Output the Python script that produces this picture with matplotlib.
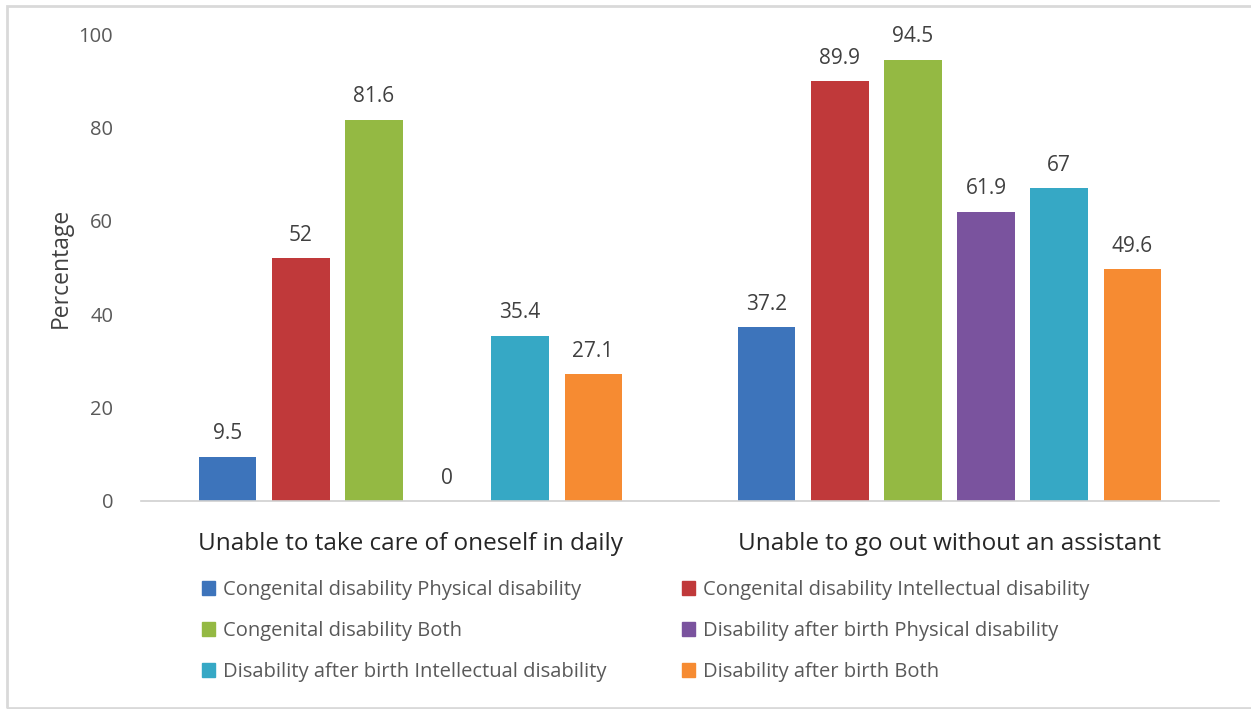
import matplotlib
matplotlib.use("Agg")
import matplotlib.pyplot as plt
from matplotlib.patches import Rectangle, Patch
import numpy as np

categories = ["Unable to take care of oneself in daily",
              "Unable to go out without an assistant"]
series_names = ["Congenital disability Physical disability",
                "Congenital disability Intellectual disability",
                "Congenital disability Both",
                "Disability after birth Physical disability",
                "Disability after birth Intellectual disability",
                "Disability after birth Both"]
values = [[9.5, 37.2],
          [52, 89.9],
          [81.6, 94.5],
          [0, 61.9],
          [35.4, 67],
          [27.1, 49.6]]
value_labels = [["9.5", "37.2"], ["52", "89.9"], ["81.6", "94.5"],
                ["0", "61.9"], ["35.4", "67"], ["27.1", "49.6"]]
colors = ["#3d74bb", "#c0393a", "#94b943", "#7a539e", "#36a8c5", "#f68b32"]
yticks = [0, 20, 40, 60, 80, 100]

plt.rcParams['font.family'] = ['Open Sans', 'DejaVu Sans']

W, H = 1251, 709
fig = plt.figure(figsize=(W / 100, H / 100), dpi=100)
ax = fig.add_axes([141 / W, 1 - 501 / H, (1219 - 141) / W, (501 - 34) / H])

x = np.arange(len(categories))
pitch = 0.1355
width = 0.106
n = len(series_names)
handles = []
for i, (name, vals, col) in enumerate(zip(series_names, values, colors)):
    off = (i - (n - 1) / 2) * pitch
    ax.bar(x + off, vals, width=width, color=col, label=name)
    handles.append(Patch(color=col, label=name))
    for xi, v, lab in zip(x + off, vals, value_labels[i]):
        ax.annotate(lab, (xi, v), xytext=(0, 9), textcoords="offset points",
                    ha="center", va="bottom", fontsize=15, color="#404040")

ax.set_xlim(-0.5, 1.5)
ax.set_ylim(0, 100)
ax.set_yticks(yticks)
ax.set_yticklabels([str(t) for t in yticks], fontsize=14.5, color="#595959")
ax.tick_params(axis='y', length=0, pad=20)
ax.set_xticks(x)
ax.set_xticklabels(categories, fontsize=17.5, color="#262626")
ax.tick_params(axis='x', length=0, pad=22)
for s in ["top", "right", "left"]:
    ax.spines[s].set_visible(False)
ax.spines["bottom"].set_color("#d0d0d0")
ax.spines["bottom"].set_linewidth(1.2)
ax.set_ylabel("Percentage", fontsize=16.5, color="#404040", labelpad=4)

leg_kw = dict(ncol=1, loc="center left", frameon=False, fontsize=14.5,
              labelcolor="#595959", handlelength=0.65, handleheight=0.65,
              handletextpad=0.4, labelspacing=1.05, borderpad=0, borderaxespad=0)
left_idx = [0, 2, 4]
right_idx = [1, 3, 5]
leg1 = fig.legend([handles[i] for i in left_idx], [series_names[i] for i in left_idx],
                  bbox_to_anchor=(202 / W, 1 - 631 / H), **leg_kw)
leg2 = fig.legend([handles[i] for i in right_idx], [series_names[i] for i in right_idx],
                  bbox_to_anchor=(682 / W, 1 - 631 / H), **leg_kw)

fig.patches.append(Rectangle((7 / W, 1 / H), 1.2, 1 - 7 / H, transform=fig.transFigure,
                             fill=False, edgecolor="#d9d9d9", linewidth=2))

fig.savefig("out.png", dpi=100, facecolor="white")
